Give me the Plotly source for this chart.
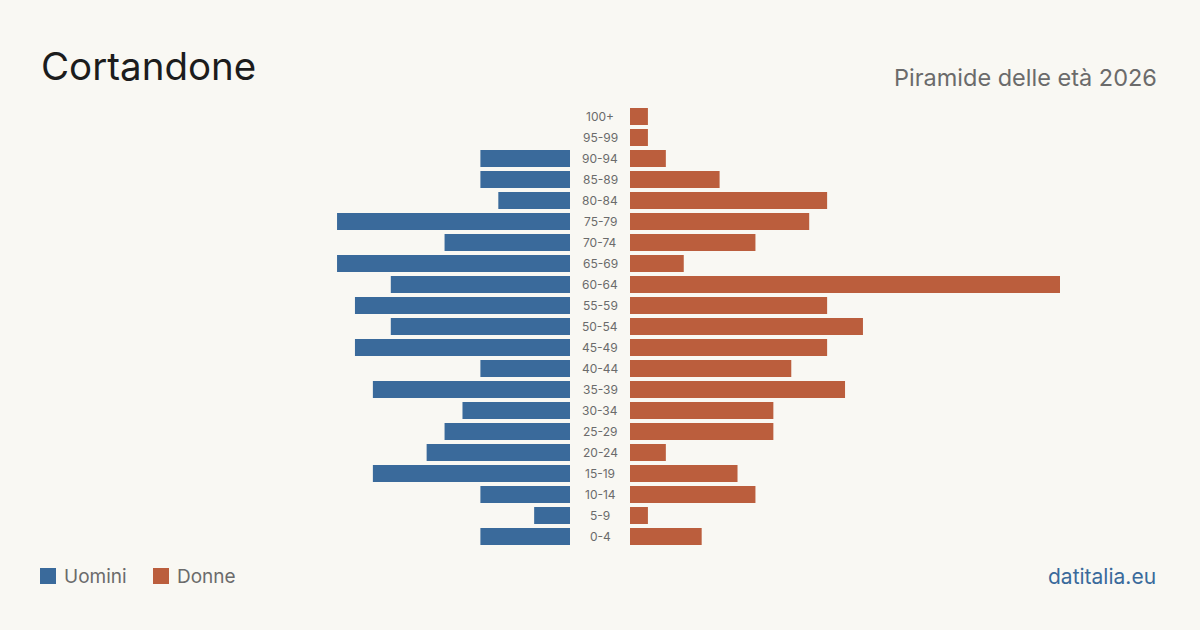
import plotly.graph_objects as go

age_groups = ["0-4", "5-9", "10-14", "15-19", "20-24", "25-29", "30-34", "35-39",
              "40-44", "45-49", "50-54", "55-59", "60-64", "65-69", "70-74", "75-79",
              "80-84", "85-89", "90-94", "95-99", "100+"]
men = [5, 2, 5, 11, 8, 7, 6, 11, 5, 12, 10, 12, 10, 13, 7, 13, 4, 5, 5, 0, 0]
women = [4, 1, 7, 6, 2, 8, 8, 12, 9, 11, 13, 11, 24, 3, 7, 10, 11, 5, 2, 1, 1]

BLUE = "#3a6a9b"
ORANGE = "#bb5e3d"
BG = "#f9f8f3"
W, H = 1200, 630

fig = go.Figure()
fig.add_trace(go.Bar(y=age_groups, x=men, orientation="h", marker=dict(color=BLUE, line=dict(width=0)),
                     xaxis="x", yaxis="y", name="Uomini", hoverinfo="x+y"))
fig.add_trace(go.Bar(y=age_groups, x=women, orientation="h", marker=dict(color=ORANGE, line=dict(width=0)),
                     xaxis="x2", yaxis="y", name="Donne", hoverinfo="x+y"))

xmax = max(max(men), max(women))
unit = 17.92
top_px, bot_px = 106, 547
ax_common = dict(showgrid=False, zeroline=False, showticklabels=False, showline=False, fixedrange=True)
fig.update_layout(
    width=W, height=H,
    margin=dict(l=0, r=0, t=0, b=0),
    paper_bgcolor=BG, plot_bgcolor=BG,
    showlegend=False, bargap=0.19,
    font=dict(family="Inter, Roboto, sans-serif"),
    xaxis=dict(domain=[(570 - unit * xmax) / W, 570 / W], range=[xmax, 0], **ax_common),
    xaxis2=dict(domain=[630 / W, (630 + unit * xmax) / W], range=[0, xmax], **ax_common),
    yaxis=dict(domain=[1 - bot_px / H, 1 - top_px / H], categoryorder="array",
               categoryarray=age_groups, showticklabels=False, showgrid=False,
               zeroline=False, fixedrange=True),
)

annotations = []
for g in age_groups:
    annotations.append(dict(x=0.5, y=g, xref="paper", yref="y", text=g, showarrow=False,
                            xanchor="center", yanchor="middle",
                            font=dict(size=12, color="#6b6b6b")))
annotations += [
    dict(x=39 / W, y=1 - 66 / H, xref="paper", yref="paper", text="Cortandone", showarrow=False,
         xanchor="left", yanchor="middle", font=dict(size=38.5, color="#1c1c1c")),
    dict(x=1159 / W, y=1 - 77 / H, xref="paper", yref="paper", text="Piramide delle età 2026",
         showarrow=False, xanchor="right", yanchor="middle", font=dict(size=23.5, color="#6b6b6b")),
    dict(x=62 / W, y=1 - 576 / H, xref="paper", yref="paper", text="Uomini", showarrow=False,
         xanchor="left", yanchor="middle", font=dict(size=19, color="#6b6b6b")),
    dict(x=175 / W, y=1 - 576 / H, xref="paper", yref="paper", text="Donne", showarrow=False,
         xanchor="left", yanchor="middle", font=dict(size=19, color="#6b6b6b")),
    dict(x=1158 / W, y=1 - 576 / H, xref="paper", yref="paper", text="datitalia.eu", showarrow=False,
         xanchor="right", yanchor="middle", font=dict(size=21, color="#3a6a9b")),
]
fig.update_layout(annotations=annotations)
fig.update_layout(shapes=[
    dict(type="rect", xref="paper", yref="paper", x0=40 / W, x1=56 / W,
         y0=1 - 584 / H, y1=1 - 568 / H, fillcolor=BLUE, line_width=0),
    dict(type="rect", xref="paper", yref="paper", x0=153 / W, x1=169 / W,
         y0=1 - 584 / H, y1=1 - 568 / H, fillcolor=ORANGE, line_width=0),
])

fig.write_html("out.html", config={"displayModeBar": False})
